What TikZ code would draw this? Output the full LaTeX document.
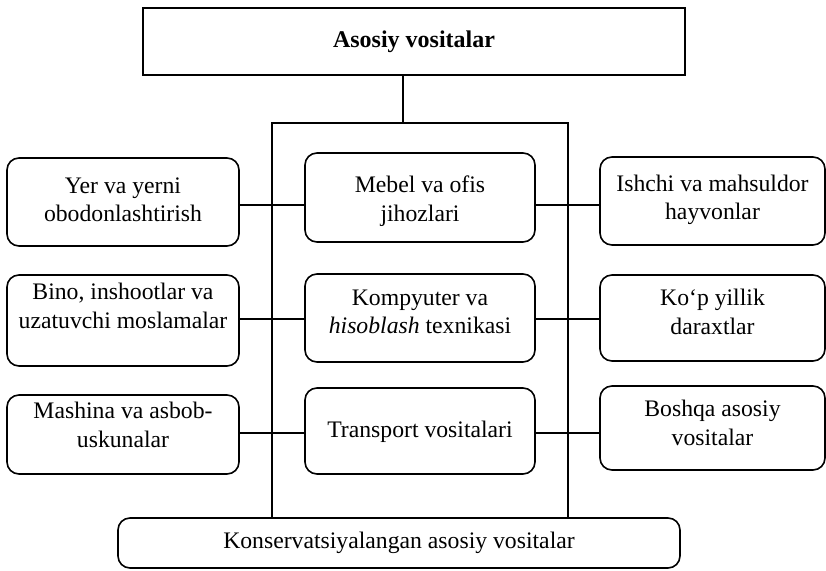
\documentclass[tikz,border=0pt]{standalone}
\usepackage{fontspec}
\setmainfont{Liberation Serif}
\begin{document}
\begin{tikzpicture}[x=1pt,y=-1pt,
  line width=1.6pt,
  txt/.style={align=center,inner sep=0pt,font=\fontsize{23.7}{28.5}\selectfont},
  sharpbox/.style={draw,rectangle,inner sep=0pt},
  roundbox/.style={draw,rectangle,rounded corners=12pt,inner sep=0pt},
  link/.style={line width=1.6pt}]
\useasboundingbox (0,0) rectangle (826,570);

% top and bottom boxes
\node[sharpbox,minimum width=542pt,minimum height=67pt] (top) at (414,41.5) {};
\node[txt,font=\fontsize{24}{28.5}\selectfont\bfseries] (toptxt) at (414,42) {Asosiy vositalar};
\node[roundbox,minimum width=562pt,minimum height=50pt] (bottom) at (399,543) {};
\node[txt] (bottomtxt) at (399,543) {Konservatsiyalangan asosiy vositalar};

% left column
\node[roundbox,minimum width=232pt,minimum height=88pt] (L1) at (123,202) {};
\node[txt] (L1t) at (123,200) {Yer va yerni\\obodonlashtirish};
\node[roundbox,minimum width=232pt,minimum height=91pt] (L2) at (123,320.5) {};
\node[txt] (L2t) at (123,306) {Bino, inshootlar va\\uzatuvchi moslamalar};
\node[roundbox,minimum width=232pt,minimum height=79pt] (L3) at (123,434.5) {};
\node[txt] (L3t) at (123,425) {Mashina va asbob-\\uskunalar};

% centre column
\node[roundbox,minimum width=230pt,minimum height=89pt] (C1) at (420,197.5) {};
\node[txt] (C1t) at (420,201) {Mebel va ofis\\jihozlari};
\node[roundbox,minimum width=230pt,minimum height=88pt] (C2) at (420,318) {};
\node[txt] (C2t) at (420,312) {Kompyuter va\\\textit{hisoblash} texnikasi};
\node[roundbox,minimum width=230pt,minimum height=86pt] (C3) at (420,431) {};
\node[txt] (C3t) at (420,432) {Transport vositalari};

% right column
\node[roundbox,minimum width=225pt,minimum height=88pt] (R1) at (712.5,201) {};
\node[txt] (R1t) at (712.5,200) {Ishchi va mahsuldor\\hayvonlar};
\node[roundbox,minimum width=225pt,minimum height=86pt] (R2) at (712.5,318) {};
\node[txt] (R2t) at (712.5,312) {Ko‘p yillik\\daraxtlar};
\node[roundbox,minimum width=225pt,minimum height=84pt] (R3) at (712.5,428) {};
\node[txt] (R3t) at (712.5,423) {Boshqa asosiy\\vositalar};

% frame joining the top box to the bottom box
\coordinate (hub) at (403,123);
\coordinate (frameL) at (272,123);
\coordinate (frameR) at (568,123);
\draw[link] (hub |- top.south) -- (hub);
\draw[link] (frameL |- bottom.north) -- (frameL) -- (frameR) -- (frameR |- bottom.north);

% horizontal connectors for each row
\coordinate (row1) at (0,205);
\coordinate (row2) at (0,319);
\coordinate (row3) at (0,433);
\draw[link] (L1.east |- row1) -- (C1.west |- row1);
\draw[link] (C1.east |- row1) -- (R1.west |- row1);
\draw[link] (L2.east |- row2) -- (C2.west |- row2);
\draw[link] (C2.east |- row2) -- (R2.west |- row2);
\draw[link] (L3.east |- row3) -- (C3.west |- row3);
\draw[link] (C3.east |- row3) -- (R3.west |- row3);
\end{tikzpicture}
\end{document}
